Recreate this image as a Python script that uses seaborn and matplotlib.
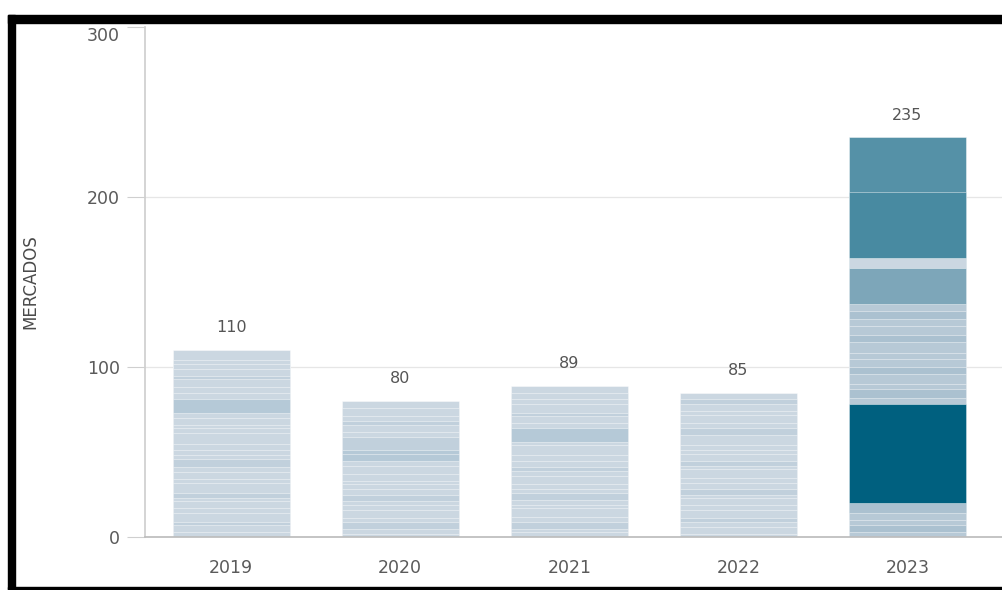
import numpy as np
import pandas as pd
import matplotlib
matplotlib.use("Agg")
import matplotlib.pyplot as plt
import seaborn as sns
from matplotlib.patches import Rectangle

W, H = 1002, 590

years = ["2019", "2020", "2021", "2022", "2023"]

# segment heights per year (bottom to top) and one tone letter per segment
seg_2019 = [3, 4, 2, 5, 3, 4, 2, 3, 6, 2, 4, 3, 5, 2, 3, 4, 6, 3, 2, 4, 3, 8, 4, 3, 5, 2, 4, 3, 2, 6]
tone_2019 = "LLMLLLLMLLLLMLLLLLLLLDLLLMLLLL"
seg_2020 = [2, 3, 4, 2, 5, 3, 2, 4, 3, 3, 2, 4, 5, 3, 4, 2, 8, 3, 4, 2, 3, 5, 4]
tone_2020 = "LLMLLLLMLLLLLLDDMLLMLLL"
seg_2021 = [3, 2, 4, 3, 5, 2, 3, 4, 2, 3, 5, 3, 2, 4, 3, 6, 2, 8, 3, 4, 2, 5, 3, 4, 4]
tone_2021 = "LLMLLLLMLLLLMLLLLDLLMLLLL"
seg_2022 = [2, 4, 3, 2, 5, 3, 4, 2, 3, 4, 3, 5, 2, 3, 4, 2, 3, 6, 4, 3, 5, 2, 4, 3, 4]
tone_2022 = "LLLMLLLLMLLLLMLLLLMLLLLML"
seg_2023 = [3, 4, 3, 4, 6, 58, 4, 5, 3, 6, 4, 5, 3, 7, 4, 5, 4, 5, 4, 21, 6, 39, 32]
tone_2023 = "BABBA" + "K" + "BABBABBBABBAB" + "P" + "L" + "T" + "U"

segments = [seg_2019, seg_2020, seg_2021, seg_2022, seg_2023]
tones = [tone_2019, tone_2020, tone_2021, tone_2022, tone_2023]

tone_colors = {
    "L": "#CBD7E1",
    "M": "#C1D0DC",
    "D": "#B5C9D7",
    "B": "#B7C9D6",
    "A": "#ABC1D0",
    "K": "#00607F",
    "T": "#488AA1",
    "U": "#5591A7",
    "P": "#7DA6B9",
}

sns.set_theme(style="white")
plt.rcParams["font.family"] = ["DejaVu Sans"]

fig = plt.figure(figsize=(W / 100, H / 100), dpi=100)
ax = fig.add_axes([145 / W, (H - 537) / H, (W - 145) / W, 510 / H])

# draw stacked bars by overlaying cumulative tops, highest segment first
n_max = max(len(s) for s in segments)
for k in range(n_max - 1, -1, -1):
    rows = []
    for yr, seg, tn in zip(years, segments, tones):
        if k < len(seg):
            rows.append({"year": yr, "top": sum(seg[:k + 1]), "color": tone_colors[tn[k]]})
    df = pd.DataFrame(rows)
    sns.barplot(
        data=df, x="year", y="top", hue="color", order=years,
        palette={c: c for c in df["color"].unique()}, saturation=1,
        dodge=False, width=0.69, errorbar=None, legend=False,
        edgecolor=(1, 1, 1, 0.5), linewidth=0.6, ax=ax,
    )

totals = [sum(s) for s in segments]
for i, t in enumerate(totals):
    ax.annotate(str(t), (i, t), xytext=(0, 16), textcoords="offset points",
                ha="center", va="center", fontsize=11.5, color="#555555")

ax.set_xlim(-0.51, 4.56)
ax.set_ylim(0, 300)
ax.set_yticks([0, 100, 200, 300])
ax.set_yticklabels(["0", "100", "200", "300"])
ax.yaxis.get_ticklabels()[-1].set_va("top")
ax.grid(axis="y", color="#E6E6E6", linewidth=0.9)
ax.yaxis.get_gridlines()[-1].set_visible(False)
ax.set_axisbelow(True)
for s in ["top", "right"]:
    ax.spines[s].set_visible(False)
ax.spines["left"].set_color("#CFCFCF")
ax.spines["bottom"].set_color("#BDBDBD")
ax.tick_params(axis="y", length=13, width=0.8, color="#CFCFCF", pad=5,
               labelsize=12.5, labelcolor="#5A5A5A", left=True)
ax.tick_params(axis="x", length=0, pad=16, labelsize=12.5, labelcolor="#5A5A5A")
ax.set_xlabel("")
ax.set_ylabel("MERCADOS", fontsize=12, color="#4A4A4A")
ax.yaxis.set_label_coords((39 - 145) / (W - 145), 0.5)

# black frame around the screenshot
k_ = "black"
fig.add_artist(Rectangle((8 / W, 1 - 23 / H), (W - 8) / W, 8 / H, transform=fig.transFigure, color=k_))
fig.add_artist(Rectangle((8 / W, 0), 7 / W, (H - 15) / H, transform=fig.transFigure, color=k_))
fig.add_artist(Rectangle((8 / W, 1 - 589 / H), (W - 8) / W, 2 / H, transform=fig.transFigure, color=k_))

fig.savefig("out.png", dpi=100)
